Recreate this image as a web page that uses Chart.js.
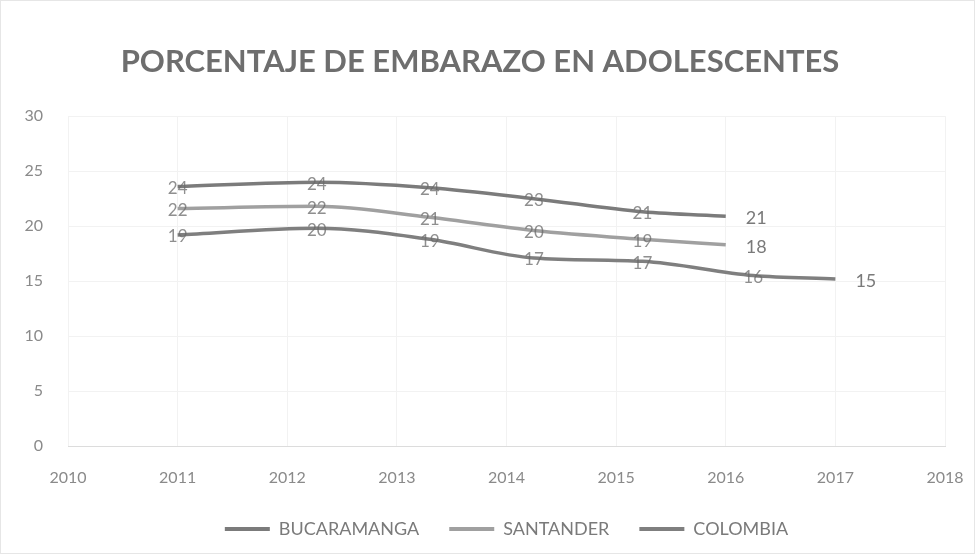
<!DOCTYPE html>
<html>
<head>
<meta charset="utf-8">
<script src="https://cdn.jsdelivr.net/npm/chart.js@4"></script>
<style>
  html, body { margin: 0; padding: 0; background: #fff; }
  #wrap { position: relative; width: 975px; height: 554px; box-sizing: border-box; border: 1px solid #e6e6e6; }
</style>
</head>
<body>
<div id="wrap"><canvas id="embarazo"></canvas></div>
<script>
// Datos (x = año, y = %)
const xBucaramanga = [2011, 2012.27, 2013.3, 2014.25, 2015.24, 2016];
const bucaramanga = [23.6, 24.0, 23.5, 22.5, 21.3, 20.9];
const xSantander = [2011, 2012.27, 2013.3, 2014.25, 2015.24, 2016];
const santander = [21.6, 21.8, 20.8, 19.6, 18.8, 18.3];
const xColombia = [2011, 2012.27, 2013.3, 2014.25, 2015.24, 2016.25, 2017];
const colombia = [19.2, 19.8, 18.8, 17.1, 16.8, 15.5, 15.2];
const yTicks = [0, 5, 10, 15, 20, 25, 30];
const xTicks = [2010, 2011, 2012, 2013, 2014, 2015, 2016, 2017, 2018];

const FONT = "Lato, 'Open Sans', sans-serif";

function pts(xs, ys) {
  return ys.map((v, i) => ({ x: xs[i], y: v }));
}

// etiquetas de valor (centro, la ultima a la derecha)
const valueLabels = {
  id: 'valueLabels',
  afterDatasetsDraw(chart) {
    const ctx = chart.ctx;
    ctx.save();
    ctx.textBaseline = 'middle';
    chart.data.datasets.forEach((ds, di) => {
      const meta = chart.getDatasetMeta(di);
      meta.data.forEach((p, i) => {
        const last = i === meta.data.length - 1;
        ctx.font = (last ? '18px ' : '17px ') + FONT;
        ctx.fillStyle = last ? '#7a7a7a' : 'rgba(105,105,105,0.75)';
        ctx.textAlign = last ? 'left' : 'center';
        ctx.fillText(Math.round(ds.data[i].y), last ? p.x + 20 : p.x, p.y + 2);
      });
    });
    ctx.restore();
  }
};

const ctx = document.getElementById('embarazo').getContext('2d');
new Chart(ctx, {
  type: 'line',
  data: {
    datasets: [
      { label: 'BUCARAMANGA', data: pts(xBucaramanga, bucaramanga), borderColor: '#7b7b7b', backgroundColor: '#7b7b7b' },
      { label: 'SANTANDER', data: pts(xSantander, santander), borderColor: '#a0a0a0', backgroundColor: '#a0a0a0' },
      { label: 'COLOMBIA', data: pts(xColombia, colombia), borderColor: '#7f7f7f', backgroundColor: '#7f7f7f' }
    ]
  },
  options: {
    responsive: true,
    maintainAspectRatio: false,
    animation: false,
    layout: { padding: { left: 14, right: 29, top: 42, bottom: 5 } },
    elements: {
      line: { borderWidth: 3.5, tension: 0.4, cubicInterpolationMode: 'monotone' },
      point: { radius: 0 }
    },
    scales: {
      x: {
        type: 'linear',
        min: 2010,
        max: 2018,
        afterBuildTicks(scale) { scale.ticks = xTicks.map(v => ({ value: v })); },
        afterFit(scale) { scale.height = 44; scale.paddingRight = 0; scale.paddingLeft = 0; },
        ticks: { color: '#8a8a8a', font: { family: FONT, size: 16 }, padding: 22, callback: v => String(v) },
        grid: { color: '#f2f2f2', drawTicks: false },
        border: { color: '#dcdcdc' }
      },
      y: {
        min: 0,
        max: 30,
        afterBuildTicks(scale) { scale.ticks = yTicks.map(v => ({ value: v })); },
        afterFit(scale) { scale.width = 53; },
        ticks: { color: '#8a8a8a', font: { family: FONT, size: 16 }, padding: 25 },
        grid: { color: '#f2f2f2', drawTicks: false },
        border: { display: false }
      }
    },
    plugins: {
      title: {
        display: true,
        text: 'PORCENTAJE DE EMBARAZO EN ADOLESCENTES',
        color: '#6e6e6e',
        font: { family: FONT, size: 31, weight: 'bold' },
        padding: { top: 0, bottom: 36 }
      },
      legend: {
        position: 'bottom',
        fullSize: false,
        labels: {
          color: '#7a7a7a',
          font: { family: FONT, size: 18 },
          boxWidth: 45,
          boxHeight: 4,
          padding: 30,
          generateLabels(chart) {
            return Chart.defaults.plugins.legend.labels.generateLabels(chart).map(l => {
              l.lineWidth = 0;
              return l;
            });
          }
        }
      },
      tooltip: { enabled: false }
    }
  },
  plugins: [valueLabels]
});
</script>
</body>
</html>
